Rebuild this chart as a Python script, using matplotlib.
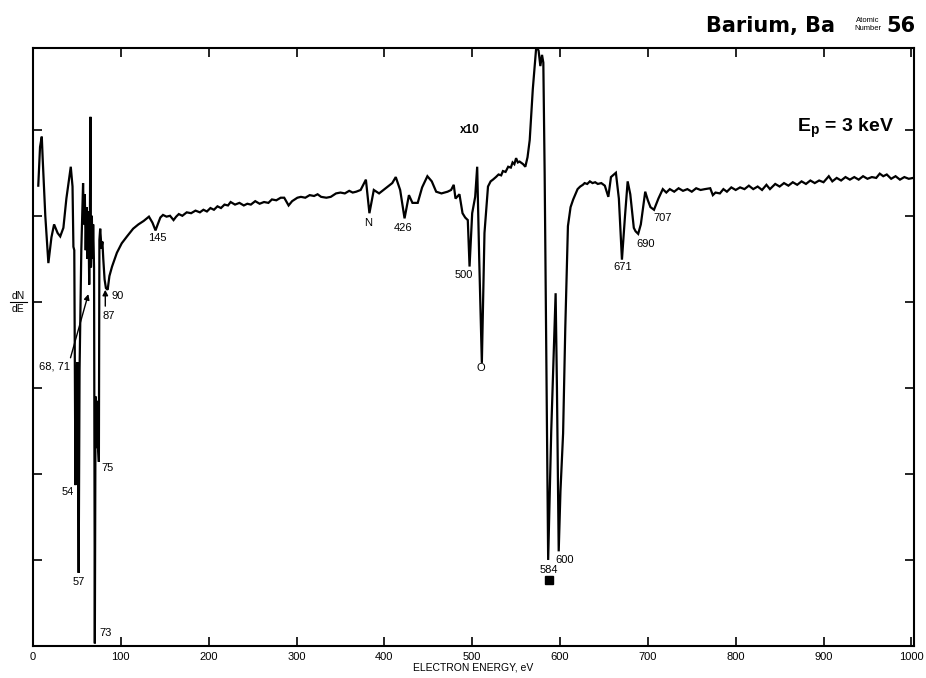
import matplotlib
matplotlib.use("Agg")
import matplotlib.pyplot as plt
from matplotlib.lines import Line2D

plt.rcParams['font.family'] = ['Liberation Sans', 'DejaVu Sans']

# Barium Auger spectrum, dN/dE (arbitrary units, 0..6 = tick marks)
# low energy part, 6-150 eV
energy_low = [6, 8, 10, 11, 14, 17.5, 21, 24, 28, 31, 34.6, 38, 43, 45, 46, 47,
              48.3, 49.5, 50.5, 52, 53, 55, 57, 58, 59, 60, 61, 62, 63, 64, 64.8,
              65.4, 66, 67, 67.8, 68.5, 69.5, 70.4, 71.2, 71.8, 72.4, 73, 73.6,
              74.2, 75, 75.6, 76.5, 78, 79, 80, 81.5, 83, 85, 87, 90, 95.5, 101,
              107, 114, 120, 126, 132, 136, 139.5, 142, 145, 148]
signal_low = [5.35, 5.8, 5.92, 5.67, 5.0, 4.45, 4.75, 4.9, 4.8, 4.76, 4.86, 5.2,
              5.57, 5.34, 4.64, 4.6, 1.87, 3.2, 3.3, 0.85, 3.2, 4.6, 5.38, 4.9,
              5.25, 4.6, 5.1, 4.5, 5.05, 4.2, 5.0, 6.15, 4.4, 5.0, 4.5, 4.9, 4.4,
              0.03, 2.9, 2.4, 2.85, 2.3, 2.8, 2.3, 2.14, 4.72, 4.85, 4.62, 4.7,
              4.5, 4.26, 4.16, 4.14, 4.3, 4.41, 4.57, 4.68, 4.76, 4.85, 4.9, 4.94,
              4.99, 4.92, 4.83, 4.9, 4.98, 5.01]

# 150-560 eV
energy_mid = [152, 156, 160, 163, 166, 170, 175, 180, 185, 190, 194, 198, 202,
              206, 210, 214, 218, 222, 225, 230, 235, 240, 244, 248, 253, 258,
              263, 268, 272, 277, 282, 286, 291, 295, 301, 305, 310, 315, 320,
              324, 328, 334, 339, 345, 350, 355, 360, 364, 368, 373, 379, 383,
              388, 394, 399, 404, 409, 413, 418, 423, 428, 432, 438, 443, 449,
              454, 459, 465, 472, 476, 479, 481, 485.5, 489, 492, 495, 497, 500,
              503.4, 505.7, 508, 511, 514, 518, 521, 523.6, 527, 530, 533, 535,
              538, 541, 544, 546, 548, 550, 552, 554, 558, 560.5]
signal_mid = [4.99, 5.0, 4.95, 4.99, 5.02, 5.0, 5.04, 5.03, 5.06, 5.04, 5.07,
              5.05, 5.09, 5.07, 5.11, 5.09, 5.13, 5.12, 5.16, 5.13, 5.15, 5.12,
              5.14, 5.13, 5.17, 5.14, 5.16, 5.15, 5.19, 5.18, 5.21, 5.21, 5.12,
              5.17, 5.21, 5.22, 5.21, 5.24, 5.23, 5.25, 5.22, 5.21, 5.22, 5.26,
              5.27, 5.26, 5.29, 5.27, 5.28, 5.3, 5.42, 5.03, 5.3, 5.26, 5.3,
              5.34, 5.38, 5.45, 5.3, 4.97, 5.24, 5.15, 5.15, 5.33, 5.46, 5.4,
              5.28, 5.26, 5.28, 5.3, 5.36, 5.2, 5.25, 5.03, 4.98, 4.95, 4.41,
              5.03, 5.22, 5.57, 4.5, 3.29, 4.8, 5.34, 5.4, 5.42, 5.45, 5.48,
              5.47, 5.52, 5.51, 5.57, 5.56, 5.62, 5.6, 5.67, 5.62, 5.63, 5.6,
              5.57]

# 560-1000 eV
energy_high = [563, 565.5, 569, 573, 575.6, 577.6, 579.5, 581, 582.5, 586.5,
               590, 595, 596.5, 598.5, 600.5, 603.5, 606, 609, 612, 615, 620,
               623, 626, 628, 631, 634, 637, 640, 643, 647, 651, 655, 658,
               663.6, 667, 670.5, 674, 677, 680, 684, 686, 689, 692, 697, 700,
               703, 707, 712, 717, 721, 725, 730, 735, 740, 745, 750, 755, 760,
               765, 771, 774, 777, 782, 786, 790, 795, 800, 805, 810, 815, 820,
               825, 830, 835, 839, 845, 850, 855, 860, 865, 870, 875, 880, 885,
               890, 895, 900, 906, 910, 915, 920, 925, 930, 935, 940, 945, 950,
               955, 960, 964, 968, 972, 977, 982, 987, 992, 997, 1002]
signal_high = [5.68, 5.88, 6.47, 6.97, 6.92, 6.74, 6.87, 6.78, 5.5, 1.0, 2.5,
               4.1, 3.0, 1.1, 1.8, 2.47, 3.7, 4.88, 5.1, 5.19, 5.31, 5.34, 5.36,
               5.38, 5.37, 5.4, 5.38, 5.39, 5.37, 5.38, 5.35, 5.22, 5.45, 5.5,
               5.2, 4.49, 5.0, 5.4, 5.25, 4.86, 4.82, 4.79, 4.9, 5.28, 5.18,
               5.1, 5.07, 5.2, 5.31, 5.27, 5.31, 5.28, 5.32, 5.29, 5.31, 5.28,
               5.32, 5.3, 5.31, 5.32, 5.24, 5.27, 5.26, 5.31, 5.28, 5.33, 5.3,
               5.33, 5.31, 5.35, 5.31, 5.34, 5.3, 5.36, 5.31, 5.37, 5.34, 5.38,
               5.35, 5.39, 5.36, 5.4, 5.37, 5.41, 5.38, 5.41, 5.39, 5.46, 5.4,
               5.44, 5.41, 5.45, 5.42, 5.45, 5.42, 5.46, 5.43, 5.45, 5.44, 5.49,
               5.46, 5.48, 5.43, 5.46, 5.42, 5.45, 5.43, 5.44]

energy = energy_low + energy_mid + energy_high
signal = signal_low + signal_mid + signal_high

# peak labels: (text, energy, y)
peak_labels = [("145", 141, 4.74), ("N", 382, 4.92), ("426", 421, 4.86),
               ("500", 490, 4.31), ("O", 510, 3.23), ("671", 671, 4.41),
               ("690", 697, 4.67), ("707", 717, 4.98), ("584", 587, 0.88),
               ("600", 605, 1.0), ("54", 39.5, 1.79), ("57", 51.6, 0.74),
               ("73", 83, 0.15), ("75", 84.6, 2.07), ("87", 86, 3.84),
               ("90", 96, 4.07), ("68, 71", 25, 3.25)]

xticks = [0, 100, 200, 300, 400, 500, 600, 700, 800, 900, 1000]
yticks = [0, 1, 2, 3, 4, 5, 6]

fig = plt.figure(figsize=(9.26, 6.78), dpi=100)
ax = fig.add_axes([33/926, 32/678, 881/926, 598/678])

ax.plot(energy, signal, color='black', lw=1.6, solid_joinstyle='miter')

ax.set_xlim(0, 1003)
ax.set_ylim(0, 6.95)
ax.set_xticks(xticks)
ax.set_yticks(yticks)
ax.tick_params(direction='in', length=6.5, width=1.2, top=True, right=True,
               labelleft=False, labelsize=8, pad=4)
for s in ax.spines.values():
    s.set_linewidth(1.5)
ax.set_xlabel('ELECTRON ENERGY, eV', fontsize=7.5, labelpad=1)

for txt, ex, ey in peak_labels:
    ax.text(ex, ey, txt, fontsize=8, ha='center', va='center')

# arrows
ax.annotate('', xy=(63, 4.09), xytext=(42.7, 3.35),
            arrowprops=dict(arrowstyle='-|>', color='black', lw=1.0,
                            mutation_scale=8, shrinkA=0, shrinkB=0))
ax.annotate('', xy=(82.3, 4.14), xytext=(82.3, 3.95),
            arrowprops=dict(arrowstyle='-|>', color='black', lw=1.0,
                            mutation_scale=8, shrinkA=0, shrinkB=0))

# filled square marker under 584
ax.plot([587], [0.77], marker='s', color='black', ms=6)

ax.text(497, 6.0, 'x10', fontsize=8.5, fontweight='bold', ha='center', va='center')
ax.text(0.978, 0.86, r'E$_\mathregular{p}$ = 3 keV', transform=ax.transAxes,
        fontsize=14, fontweight='bold', ha='right', va='baseline')

# y-label dN/dE as a fraction
fig.text(18/926, 1 - 296/678, 'dN', fontsize=7.5, ha='center', va='center')
fig.text(18/926, 1 - 309/678, 'dE', fontsize=7.5, ha='center', va='center')
fig.add_artist(Line2D([10/926, 27/926], [1 - 302/678, 1 - 302/678],
                      color='black', lw=0.8))

# header
fig.text(835/926, 1 - 32/678, 'Barium, Ba', fontsize=15, fontweight='bold',
         family='DejaVu Sans', ha='right', va='baseline')
fig.text(868/926, 1 - 21/678, 'Atomic', fontsize=5.5, ha='center', va='center')
fig.text(868/926, 1 - 29/678, 'Number', fontsize=5.5, ha='center', va='center')
fig.text(915/926, 1 - 32/678, '56', fontsize=15, fontweight='bold',
         family='DejaVu Sans', ha='right', va='baseline')

fig.savefig('out.png', dpi=100)
